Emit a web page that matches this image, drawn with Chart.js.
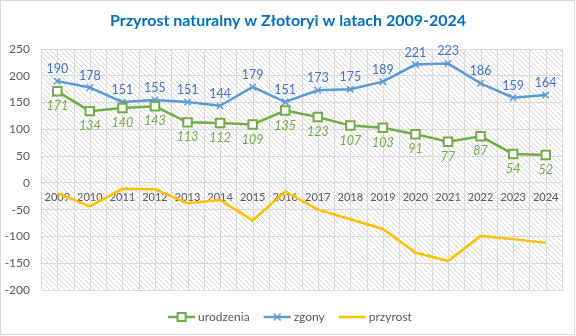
<!DOCTYPE html>
<html>
<head>
<meta charset="utf-8">
<script src="https://cdn.jsdelivr.net/npm/chart.js@4.4.1/dist/chart.umd.min.js"></script>
<style>
  html, body { margin: 0; padding: 0; background: #fff; }
  canvas { display: block; }
</style>
</head>
<body>
<canvas id="chart" width="576" height="336"></canvas>
<script>
// Natural population change in Złotoryja, 2009-2024
const years = ['2009','2010','2011','2012','2013','2014','2015','2016','2017','2018','2019','2020','2021','2022','2023','2024'];
const urodzenia = [171,134,140,143,113,112,109,135,123,107,103,91,77,87,54,52];
const zgony     = [190,178,151,155,151,144,179,151,173,175,189,221,223,186,159,164];
const przyrost  = [-19,-44,-11,-12,-38,-32,-70,-16,-50,-68,-86,-130,-146,-99,-105,-112];
const yMin = -200, yMax = 250, yStep = 50;
const chartTitle = 'Przyrost naturalny w Złotoryi w latach 2009-2024';

const FONT = 'Lato, "Open Sans", sans-serif';
const GREEN = '#70AD47', BLUE = '#5B9BD5', BLUE_TXT = '#4472C4', GOLD = '#FFC000';
const GRID = '#d9d9d9', TEXT = '#595959';

// diagonal hatch tile for the plot background
function hatchPattern(ctx) {
  const s = 5;
  const tile = document.createElement('canvas');
  tile.width = s; tile.height = s;
  const t = tile.getContext('2d');
  const img = t.createImageData(s, s);
  for (let i = 0; i < s; i++) {
    const k = (i * s + i) * 4;
    img.data[k] = 212; img.data[k+1] = 212; img.data[k+2] = 212; img.data[k+3] = 255;
  }
  t.putImageData(img, 0, 0);
  return ctx.createPattern(tile, 'repeat');
}

const framePlugin = {
  id: 'frame',
  beforeDraw(chart) {
    const { ctx, chartArea: a, width, height } = chart;
    ctx.save();
    ctx.fillStyle = '#fff';
    ctx.fillRect(0, 0, width, height);
    // outer border
    ctx.strokeStyle = GRID; ctx.lineWidth = 1;
    ctx.strokeRect(0.5, 0.5, width - 2, height - 2);
    // title
    ctx.fillStyle = '#0070C0';
    ctx.font = 'bold 16px ' + FONT;
    ctx.textAlign = 'center'; ctx.textBaseline = 'middle';
    ctx.fillText(chartTitle, width / 2, 21);
    // hatched plot area
    ctx.fillStyle = hatchPattern(ctx);
    ctx.fillRect(a.left, a.top, a.right - a.left, a.bottom - a.top);
    // vertical grid: category centres and boundaries
    const x = chart.scales.x;
    ctx.strokeStyle = GRID; ctx.lineWidth = 1;
    ctx.beginPath();
    for (let i = 0; i < years.length; i++) {
      const cx = Math.round(x.getPixelForValue(i)) + 0.5;
      ctx.moveTo(cx, a.top); ctx.lineTo(cx, a.bottom);
      if (i > 0) {
        const bx = Math.round((x.getPixelForValue(i) + x.getPixelForValue(i - 1)) / 2) + 0.5;
        ctx.moveTo(bx, a.top); ctx.lineTo(bx, a.bottom);
      }
    }
    ctx.stroke();
    ctx.strokeRect(Math.round(a.left) + 0.5, Math.round(a.top) + 0.5,
                   Math.round(a.right - a.left), Math.round(a.bottom - a.top));
    ctx.restore();
  },
  beforeDatasetsDraw(chart) {
    // year labels along the zero line
    const { ctx } = chart;
    const x = chart.scales.x, y = chart.scales.y;
    const y0 = y.getPixelForValue(0);
    ctx.save();
    ctx.fillStyle = TEXT;
    ctx.font = '11px ' + FONT;
    ctx.textAlign = 'center'; ctx.textBaseline = 'middle';
    years.forEach((yr, i) => ctx.fillText(yr, x.getPixelForValue(i), y0 + 15));
    ctx.restore();
  },
  afterDatasetsDraw(chart) {
    // value labels: deaths above, births below
    const { ctx } = chart;
    ctx.save();
    ctx.textAlign = 'center'; ctx.textBaseline = 'middle';
    const mz = chart.getDatasetMeta(1);
    ctx.fillStyle = BLUE_TXT; ctx.font = '12.5px ' + FONT;
    mz.data.forEach((p, i) => ctx.fillText(String(zgony[i]), p.x, p.y - 12));
    const mu = chart.getDatasetMeta(0);
    ctx.fillStyle = GREEN; ctx.font = 'italic 12.5px ' + FONT;
    mu.data.forEach((p, i) => ctx.fillText(String(urodzenia[i]), p.x, p.y + 15));
    ctx.restore();
  },
  afterDraw(chart) {
    // legend
    const { ctx, width } = chart;
    const items = [
      { text: 'urodzenia', color: GREEN, marker: 'rect' },
      { text: 'zgony', color: BLUE, marker: 'cross' },
      { text: 'przyrost', color: GOLD, marker: null }
    ];
    const lineLen = 27, gapText = 3, gapItem = 14, ly = 317;
    ctx.save();
    ctx.font = '12px ' + FONT;
    let total = 0;
    items.forEach((it, i) => {
      it.w = ctx.measureText(it.text).width;
      total += lineLen + gapText + it.w + (i < items.length - 1 ? gapItem : 0);
    });
    let cx = width / 2 + 2 - total / 2;
    items.forEach(it => {
      ctx.strokeStyle = it.color; ctx.lineWidth = 2.5;
      ctx.beginPath(); ctx.moveTo(cx, ly); ctx.lineTo(cx + lineLen, ly); ctx.stroke();
      const mx = cx + lineLen / 2;
      if (it.marker === 'rect') {
        ctx.fillStyle = '#fff'; ctx.lineWidth = 2;
        ctx.fillRect(mx - 4, ly - 4, 8, 8);
        ctx.strokeRect(mx - 4, ly - 4, 8, 8);
      } else if (it.marker === 'cross') {
        ctx.lineWidth = 1.5;
        ctx.beginPath();
        ctx.moveTo(mx - 3.5, ly - 3.5); ctx.lineTo(mx + 3.5, ly + 3.5);
        ctx.moveTo(mx + 3.5, ly - 3.5); ctx.lineTo(mx - 3.5, ly + 3.5);
        ctx.stroke();
      }
      ctx.fillStyle = TEXT; ctx.textAlign = 'left'; ctx.textBaseline = 'middle';
      ctx.fillText(it.text, cx + lineLen + gapText, ly);
      cx += lineLen + gapText + it.w + gapItem;
    });
    ctx.restore();
  }
};

new Chart(document.getElementById('chart'), {
  type: 'line',
  data: {
    labels: years,
    datasets: [
      {
        label: 'urodzenia', data: urodzenia,
        borderColor: GREEN, borderWidth: 2.5, tension: 0,
        pointStyle: 'rect', pointRadius: 6, pointBorderWidth: 2,
        pointBackgroundColor: '#fff', pointBorderColor: GREEN
      },
      {
        label: 'zgony', data: zgony,
        borderColor: BLUE, borderWidth: 2.5, tension: 0,
        pointStyle: 'crossRot', pointRadius: 4.5, pointBorderWidth: 1.5,
        pointBorderColor: BLUE, pointBackgroundColor: BLUE
      },
      {
        label: 'przyrost', data: przyrost,
        borderColor: GOLD, borderWidth: 2.5, tension: 0,
        pointRadius: 0
      }
    ]
  },
  options: {
    responsive: false,
    animation: false,
    layout: { padding: { left: 0, right: 14, top: 49, bottom: 46 } },
    plugins: { legend: { display: false }, title: { display: false }, tooltip: { enabled: false } },
    scales: {
      x: { type: 'category', offset: true, display: false },
      y: {
        min: yMin, max: yMax,
        afterFit(s) { s.width = 41; },
        ticks: { stepSize: yStep, color: TEXT, font: { family: FONT, size: 12 }, padding: 11 },
        grid: { color: GRID, drawTicks: false },
        border: { display: false }
      }
    }
  },
  plugins: [framePlugin]
});
</script>
</body>
</html>
